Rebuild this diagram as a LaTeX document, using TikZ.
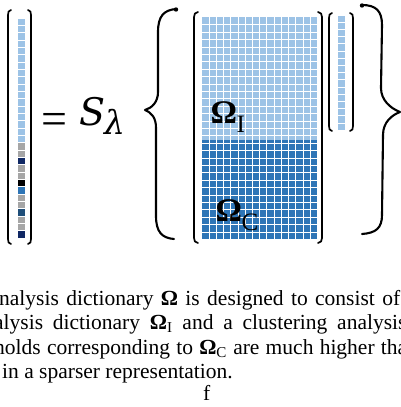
\documentclass[tikz,border=0pt]{standalone}
\usepackage{fontspec}
\setmainfont{Liberation Serif}
\newfontfamily\opfont{DejaVu Serif}
\usetikzlibrary{positioning}
\definecolor{anaLight}{RGB}{157,195,230}
\definecolor{anaDark}{RGB}{46,117,182}
\definecolor{anaNavy}{RGB}{16,40,100}
\definecolor{anaSteel}{RGB}{31,78,121}
\definecolor{anaGray}{RGB}{166,166,166}
\tikzset{
  abrk/.style={line width=1.7pt, line cap=round, line join=round, draw=black},
  abrace/.style={line width=2.1pt, line cap=round, line join=round, draw=black},
  acell/.style={draw=white, line width=.65pt},
  agrid/.style={draw=white, line width=.65pt},
  acap/.style={font=\fontsize{21.5}{24.5}\selectfont, anchor=base west,
    inner sep=0pt, text=black}
}

\begin{document}
\begin{tikzpicture}[x=1pt, y=-1pt,
  omlabel/.style={font=\bfseries\fontsize{33}{33}\selectfont, anchor=base west,
    inner sep=0pt},
  sublabel/.style={font=\fontsize{25}{25}\selectfont, anchor=base west,
    inner sep=0pt},
  oplabel/.style={anchor=base west, inner sep=0pt}
]
\path[use as bounding box] (0,0) rectangle (401,407);

% left vector
\foreach \c [count=\i from 0] in {anaLight,anaLight,anaLight,anaLight,anaLight,
    anaLight,anaLight,anaLight,anaLight,anaLight,anaLight,anaLight,anaLight,
    anaLight,anaLight,anaLight,anaLight,anaGray,anaGray,anaNavy,anaGray,anaGray,
    black,anaDark,anaGray,anaGray,anaSteel,anaGray,anaGray,anaNavy}
  \filldraw[acell, fill=\c] (17,18+\i*7.33) rectangle ++(8,7.33);
\draw[abrk] (11,10) .. controls (8.5,10.5) and (8,12) .. (8,15) -- (8,239)
  .. controls (8,242) and (8.5,243.5) .. (11,244);
\draw[abrk] (28,10) .. controls (30.5,10.5) and (31,12) .. (31,15) -- (31,239)
  .. controls (31,242) and (30.5,243.5) .. (28,244);

% operator
\node[font=\fontsize{46}{46}\selectfont, anchor=base west, inner sep=0pt]
  (eqsign) at (41,134) {=};
\node[oplabel, font={\opfont\itshape\fontsize{38}{38}\selectfont}]
  (sop) at (79,125) {S};
\node[oplabel, font={\opfont\itshape\fontsize{33}{33}\selectfont}]
  (slam) at (104,134) {λ};

% left brace
\draw[abrace] (176,9) .. controls (164,10) and (158,16) .. (158,32) -- (158,92)
  .. controls (158,102) and (152,108) .. (145,110)
  .. controls (152,113) and (156,118) .. (156,128) -- (156,216)
  .. controls (156,232) and (162,238) .. (174,239);
\fill (176,9.5) circle (2.2pt);

% analysis dictionary
\fill[anaLight] (201.7,17.3) rectangle (317.3,140);
\fill[anaDark] (201.7,140) rectangle (317.3,239.3);
\foreach \k in {1,...,15}
  \draw[agrid] (201.7+\k*7.225,17.3) -- ++(0,222);
\foreach \k in {1,...,29}
  \draw[agrid] (201.7,17.3+\k*7.4) -- ++(115.6,0);
\draw[abrk] (198,12) .. controls (195,12.5) and (194,14) .. (194,17) -- (194,238)
  .. controls (194,241) and (195,242.5) .. (198,243);
\draw[abrk] (318,12) .. controls (321,12.5) and (322,14) .. (322,17) -- (322,238)
  .. controls (322,241) and (321,242.5) .. (318,243);

\node[omlabel] (omI) at (210.5,123) {Ω};
\node[sublabel] (omIsub) at (236.5,132) {I};
\node[omlabel] (omC) at (215.5,221.5) {Ω};
\node[sublabel] (omCsub) at (241.5,230) {C};

% small vector
\foreach \i in {0,...,15}
  \filldraw[acell, fill=anaLight] (337.7,15+\i*7.19) rectangle ++(7.6,7.19);
\draw[abrk] (332,13) .. controls (329.5,13.5) and (329,15) .. (329,18) -- (329,126)
  .. controls (329,129) and (329.5,130.5) .. (332,131);
\draw[abrk] (350,13) .. controls (352.5,13.5) and (353,15) .. (353,18) -- (353,126)
  .. controls (353,129) and (352.5,130.5) .. (350,131);

% right brace
\draw[abrace] (362,5) .. controls (376,5) and (382,11) .. (382,25) -- (381,88)
  .. controls (381,100) and (390,108) .. (400,112)
  .. controls (392,115) and (383,122) .. (383,135) -- (382,215)
  .. controls (382,228) and (376,233) .. (362,234);
\fill (362,5.5) circle (2.2pt);

% caption lines
\node[acap] (cap1) at (-1,305) {\hbox to 401pt{\spaceskip=.25em plus 1fil
  nalysis dictionary \textbf{Ω} is designed to consist of}};
\node[acap] (cap2) at (-6,329.5) {\hbox to 412.3pt{\spaceskip=.25em plus 1fil
  alysis dictionary \textbf{Ω}\textsubscript{I} and a clustering analysis}};
\node[acap] (cap3) at (-6,354) {\hbox to 413pt{\spaceskip=.25em plus 1fil
  holds corresponding to \textbf{Ω}\textsubscript{C} are much higher tha}};
\node[acap] (cap4) at (2,378.5) {in a sparser representation.};
\node[acap] (capf) at (203,400) {f};
\end{tikzpicture}
\end{document}
